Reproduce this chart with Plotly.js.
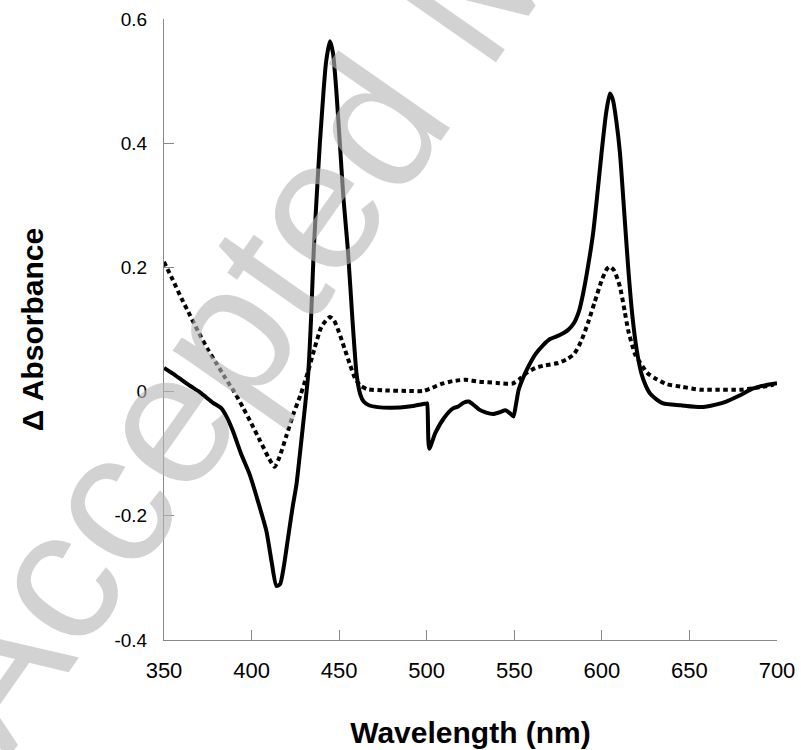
<!DOCTYPE html>
<html>
<head>
<meta charset="utf-8">
<script src="https://cdn.plot.ly/plotly-3.0.1.min.js"></script>
<style>html,body{margin:0;padding:0;background:#fff;}</style>
</head>
<body>
<div id="chart" style="width:801px;height:750px;"></div>
<script>
// Solid trace
const solidX = [350,355,360,365,370,374,378,382.8,386,389.4,394,399,404,408.5,411.5,414.2,416.3,418.5,421,423.5,425.6,428,430.4,432.3,434,435.5,437.2,439,441,442.5,444.7,446.5,448.5,450.4,452.5,455,457.5,460,462,464,467,472,480,490,500,500.3,501.4,505,510,515,518,521,524,527,530,534,538,542,545,548,549.5,551,552.5,555,558,562,566.5,570,576,580.6,584,587,589.3,592,595,597.5,600,602.5,604.6,606.3,608.3,610.3,612.5,615,617.5,619.9,622.5,625,627.5,631,635,645,656,660,665,671,678,686.5,693,700];
const solidY = [0.038,0.029,0.019,0.009,0.0,-0.009,-0.018,-0.027,-0.042,-0.064,-0.100,-0.134,-0.180,-0.225,-0.275,-0.313,-0.310,-0.280,-0.232,-0.185,-0.150,-0.090,-0.027,0.027,0.120,0.228,0.315,0.400,0.480,0.530,0.564,0.545,0.480,0.400,0.310,0.228,0.120,0.027,-0.004,-0.016,-0.022,-0.025,-0.026,-0.024,-0.019,-0.019,-0.092,-0.066,-0.042,-0.027,-0.024,-0.018,-0.016,-0.022,-0.029,-0.034,-0.036,-0.033,-0.030,-0.036,-0.040,-0.020,0.003,0.022,0.040,0.060,0.075,0.084,0.091,0.099,0.110,0.130,0.158,0.200,0.255,0.320,0.389,0.450,0.480,0.470,0.435,0.385,0.300,0.201,0.120,0.067,0.030,0.010,-0.003,-0.012,-0.019,-0.022,-0.025,-0.024,-0.021,-0.016,-0.007,0.005,0.010,0.0135];

// Dotted trace
const dotX = [350,355,360,365,370,375,380,385,390,395,400,405,410,413.2,416,420,424,428,432,436,440,444.7,447,450,453,456,459,462,466,475,490,498,503,508,515,522,530,540,549,553,557,562,567,575,580,584,588,592,596,600,603,604.6,607,610.3,613,615,619,622,626,630,637,645,656,665,679,690,698];
const dotY = [0.209,0.180,0.150,0.122,0.094,0.068,0.045,0.022,0.000,-0.025,-0.052,-0.080,-0.108,-0.121,-0.105,-0.070,-0.035,-0.005,0.030,0.070,0.105,0.120,0.115,0.095,0.070,0.045,0.022,0.010,0.004,0.002,0.001,0.001,0.006,0.012,0.017,0.019,0.016,0.014,0.013,0.020,0.030,0.038,0.042,0.046,0.052,0.060,0.080,0.110,0.145,0.180,0.198,0.201,0.195,0.169,0.130,0.099,0.060,0.046,0.030,0.022,0.012,0.008,0.003,0.003,0.003,0.007,0.011];

const xTicks = [350,400,450,500,550,600,650,700];
const yTicks = [-0.4,-0.2,0,0.2,0.4,0.6];
const yTickText = ['-0.4','-0.2','0','0.2','0.4','0.6'];
const xTitle = 'Wavelength (nm)';
const yTitle = '\u0394 Absorbance';
const watermark = 'Accepted Manuscript';

const traces = [
  {x: solidX, y: solidY, mode: 'lines', type: 'scatter',
   line: {color: '#000', width: 4, shape: 'spline', smoothing: 0.6}, hoverinfo: 'skip'},
  {x: dotX, y: dotY, mode: 'lines', type: 'scatter',
   line: {color: '#000', width: 4, dash: '4.5px,3.5px', shape: 'spline', smoothing: 0.6}, hoverinfo: 'skip'}
];

const axisFont = 'Arial, "Liberation Sans", sans-serif';
const layout = {
  width: 801, height: 750,
  margin: {l: 164, r: 24, t: 19, b: 110},
  paper_bgcolor: '#fff', plot_bgcolor: '#fff',
  showlegend: false,
  font: {family: axisFont, color: '#000'},
  xaxis: {
    range: [350, 700], tickmode: 'array', tickvals: xTicks,
    ticks: 'inside', ticklen: 10, tickcolor: '#888', tickwidth: 1,
    showline: true, linecolor: '#888', linewidth: 1,
    showgrid: false, zeroline: false,
    tickfont: {size: 22, family: axisFont, color: '#000'},
    ticklabelstandoff: 11,
    title: {text: '<b>' + xTitle + '</b>', font: {size: 30, family: axisFont, color: '#000'}, standoff: 39}
  },
  yaxis: {
    range: [-0.4, 0.6], tickmode: 'array', tickvals: yTicks, ticktext: yTickText,
    ticks: 'inside', ticklen: 10, tickcolor: '#888', tickwidth: 1,
    showline: true, linecolor: '#888', linewidth: 1,
    showgrid: false, zeroline: false,
    tickfont: {size: 19, family: axisFont, color: '#000'},
    ticklabelstandoff: 12,
    title: {text: '<b>' + yTitle + '</b>', font: {size: 30, family: axisFont, color: '#000'}, standoff: 61}
  },
  annotations: [{
    text: watermark, xref: 'paper', yref: 'paper', x: 0.48, y: 1.025,
    xanchor: 'center', yanchor: 'middle', showarrow: false, textangle: -55,
    font: {size: 188, family: axisFont, color: 'rgba(183,183,183,0.62)'}
  }]
};

Plotly.newPlot('chart', traces, layout, {staticPlot: true, displayModeBar: false});
</script>
</body>
</html>
